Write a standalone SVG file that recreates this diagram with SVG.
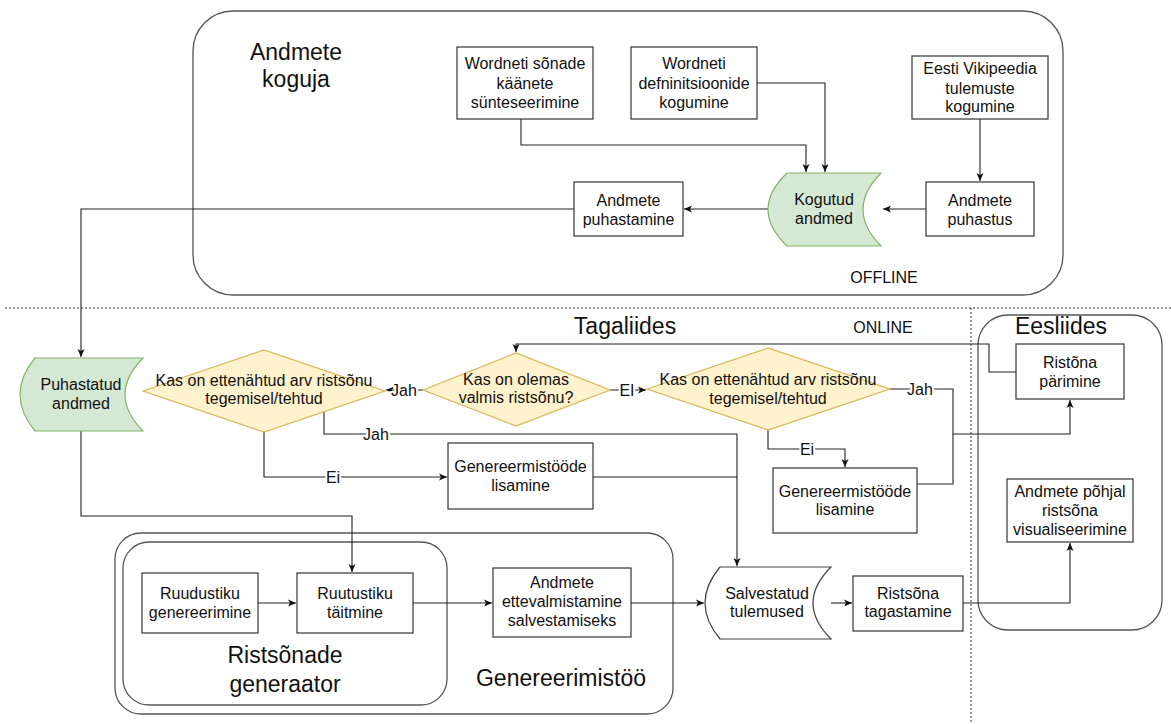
<svg xmlns="http://www.w3.org/2000/svg" width="1171" height="724" viewBox="0 0 1171 724">
<defs>
<marker id="arr" markerWidth="10" markerHeight="8" refX="8" refY="4" orient="auto" markerUnits="userSpaceOnUse">
<path d="M0,0.5 L8,4 L0,7.5 L2,4 Z" fill="#111"/>
</marker>
<style>
text{font-family:"Liberation Sans",Arial,sans-serif;fill:#111;text-anchor:middle}
.t{font-size:16px}
.big{font-size:23px}
.lbl{font-size:16px;paint-order:stroke;stroke:#fff;stroke-width:4px;stroke-linejoin:round}
.box{fill:#fff;stroke:#333;stroke-width:1.2}
.cont{fill:none;stroke:#555;stroke-width:1.3}
.dia{fill:#fff2cc;stroke:#d6b656;stroke-width:1.2}
.store{fill:#d5e8d4;stroke:#82b366;stroke-width:1.2}
.store2{fill:#fff;stroke:#444;stroke-width:1.2}
.c{fill:none;stroke:#222;stroke-width:1.1}
.ca{fill:none;stroke:#222;stroke-width:1.1;marker-end:url(#arr)}
.dash{fill:none;stroke:#333;stroke-width:1;stroke-dasharray:2,2}
</style>
</defs>
<rect width="1171" height="724" fill="#fff"/>

<g id="containers">
<rect id="koguja" class="cont" x="193" y="11" width="870" height="284" rx="40" ry="40"/>
<rect id="eesliides" class="cont" x="978" y="315" width="184" height="315" rx="30" ry="30"/>
<rect id="genereerimistoo" class="cont" x="115" y="533" width="558" height="181" rx="26" ry="26"/>
<rect id="generaator" class="cont" x="123" y="542" width="324" height="163" rx="26" ry="26"/>
<line class="dash" x1="5" y1="308" x2="1171" y2="308"/>
<line class="dash" x1="971" y1="308" x2="971" y2="724"/>
</g>

<g id="titles">
<text class="big" x="296" y="60">Andmete</text>
<text class="big" x="296" y="87">koguja</text>
<text class="t" x="884" y="283">OFFLINE</text>
<text class="t" x="883" y="333">ONLINE</text>
<text class="big" x="625" y="334">Tagaliides</text>
<text class="big" x="1061" y="334">Eesliides</text>
<text class="big" x="285" y="663">Ristsõnade</text>
<text class="big" x="285" y="692">generaator</text>
<text class="big" x="561" y="686">Genereerimistöö</text>
</g>

<g id="connectors">
<path class="ca" d="M521,119 V145 H806 V172"/>
<path class="ca" d="M757,83 H825 V172"/>
<path class="ca" d="M980,119 V181"/>
<path class="ca" d="M926,209 H883"/>
<path class="ca" d="M768,209 H684"/>
<path class="ca" d="M574,209 H81 V357"/>
<path class="ca" d="M81,431 V516 H352 V572"/>
<path class="ca" d="M258,603 H296"/>
<path class="ca" d="M413,603 H492"/>
<path class="ca" d="M631,603 H704"/>
<path class="ca" d="M831,603 H852"/>
<path class="ca" d="M963,603 H1070 V543"/>
<path class="ca" d="M1016,372 H989 V344 H516 V352"/>
<path class="ca" d="M423,390 H386"/>
<path class="ca" d="M610,390 H646"/>
<path class="ca" d="M890,389 H953 V434 H1070 V400"/>
<path class="c" d="M917,484 H953 V434"/>
<path class="ca" d="M768,430 V449 H845 V467"/>
<path class="ca" d="M324,412 V434 H737 V566"/>
<path class="c" d="M593,477 H737"/>
<path class="ca" d="M264,432 V477 H447"/>
<text class="lbl" x="404" y="396">Jah</text>
<text class="lbl" x="627" y="396">EI</text>
<text class="lbl" x="920" y="395">Jah</text>
<text class="lbl" x="807" y="455">Ei</text>
<text class="lbl" x="376" y="440">Jah</text>
<text class="lbl" x="333" y="483">Ei</text>
</g>

<g id="n-wordnet-kaaned">
<rect class="box" x="457" y="47" width="136" height="72"/>
<text class="t" x="525" y="69">Wordneti sõnade</text>
<text class="t" x="525" y="89">käänete</text>
<text class="t" x="525" y="108">sünteseerimine</text>
</g>
<g id="n-wordnet-def">
<rect class="box" x="631" y="47" width="126" height="72"/>
<text class="t" x="694" y="69">Wordneti</text>
<text class="t" x="694" y="89">defninitsioonide</text>
<text class="t" x="694" y="108">kogumine</text>
</g>
<g id="n-vikipeedia">
<rect class="box" x="912" y="56" width="136" height="63"/>
<text class="t" x="980" y="74">Eesti Vikipeedia</text>
<text class="t" x="980" y="94">tulemuste</text>
<text class="t" x="980" y="112">kogumine</text>
</g>
<g id="n-andmete-puhastus">
<rect class="box" x="926" y="182" width="108" height="54"/>
<text class="t" x="980" y="206">Andmete</text>
<text class="t" x="980" y="225">puhastus</text>
</g>
<g id="n-kogutud">
<path class="store" d="M787,173 L881,173 Q845,209.5 881,246 L787,246 Q749,209.5 787,173 Z"/>
<text class="t" x="824" y="205">Kogutud</text>
<text class="t" x="824" y="224">andmed</text>
</g>
<g id="n-andmete-puhastamine">
<rect class="box" x="574" y="182" width="109" height="54"/>
<text class="t" x="628.5" y="206">Andmete</text>
<text class="t" x="628.5" y="225">puhastamine</text>
</g>
<g id="n-puhastatud">
<path class="store" d="M35,358 L143,358 Q107,394.5 143,431 L35,431 Q5,394.5 35,358 Z"/>
<text class="t" x="81" y="390">Puhastatud</text>
<text class="t" x="81" y="409">andmed</text>
</g>
<g id="n-dia1">
<polygon class="dia" points="143,391 264,350 385,391 264,432"/>
<text class="t" x="264" y="386">Kas on ettenähtud arv ristsõnu</text>
<text class="t" x="264" y="404">tegemisel/tehtud</text>
</g>
<g id="n-dia2">
<polygon class="dia" points="423,390 516,353 610,390 516,426"/>
<text class="t" x="516" y="385">Kas on olemas</text>
<text class="t" x="516" y="403">valmis ristsõnu?</text>
</g>
<g id="n-dia3">
<polygon class="dia" points="647,389 768,348 890,389 768,430"/>
<text class="t" x="768" y="385">Kas on ettenähtud arv ristsõnu</text>
<text class="t" x="768" y="404">tegemisel/tehtud</text>
</g>
<g id="n-gen-lisamine-1">
<rect class="box" x="448" y="443" width="145" height="66"/>
<text class="t" x="520.5" y="472">Genereermistööde</text>
<text class="t" x="520.5" y="491">lisamine</text>
</g>
<g id="n-gen-lisamine-2">
<rect class="box" x="773" y="468" width="144" height="65"/>
<text class="t" x="845" y="497">Genereermistööde</text>
<text class="t" x="845" y="515">lisamine</text>
</g>
<g id="n-parimine">
<rect class="box" x="1016" y="344" width="108" height="55"/>
<text class="t" x="1070" y="368">Ristõna</text>
<text class="t" x="1070" y="387">pärimine</text>
</g>
<g id="n-visualiseerimine">
<rect class="box" x="1007" y="479" width="126" height="63"/>
<text class="t" x="1070" y="497">Andmete põhjal</text>
<text class="t" x="1070" y="516">ristsõna</text>
<text class="t" x="1070" y="535">visualiseerimine</text>
</g>
<g id="n-ruudustiku">
<rect class="box" x="142" y="573" width="116" height="60"/>
<text class="t" x="200" y="599">Ruudustiku</text>
<text class="t" x="200" y="618">genereerimine</text>
</g>
<g id="n-taitmine">
<rect class="box" x="297" y="573" width="116" height="60"/>
<text class="t" x="355" y="599">Ruutustiku</text>
<text class="t" x="355" y="618">täitmine</text>
</g>
<g id="n-ettevalmistamine">
<rect class="box" x="493" y="568" width="138" height="69"/>
<text class="t" x="562" y="588">Andmete</text>
<text class="t" x="562" y="607">ettevalmistamine</text>
<text class="t" x="562" y="626">salvestamiseks</text>
</g>
<g id="n-salvestatud">
<path class="store2" d="M720,567 L831,567 Q795,603 831,639 L720,639 Q690,603 720,567 Z"/>
<text class="t" x="767" y="599">Salvestatud</text>
<text class="t" x="767" y="617">tulemused</text>
</g>
<g id="n-tagastamine">
<rect class="box" x="853" y="576" width="110" height="55"/>
<text class="t" x="908" y="599">Ristsõna</text>
<text class="t" x="908" y="617">tagastamine</text>
</g>
</svg>
